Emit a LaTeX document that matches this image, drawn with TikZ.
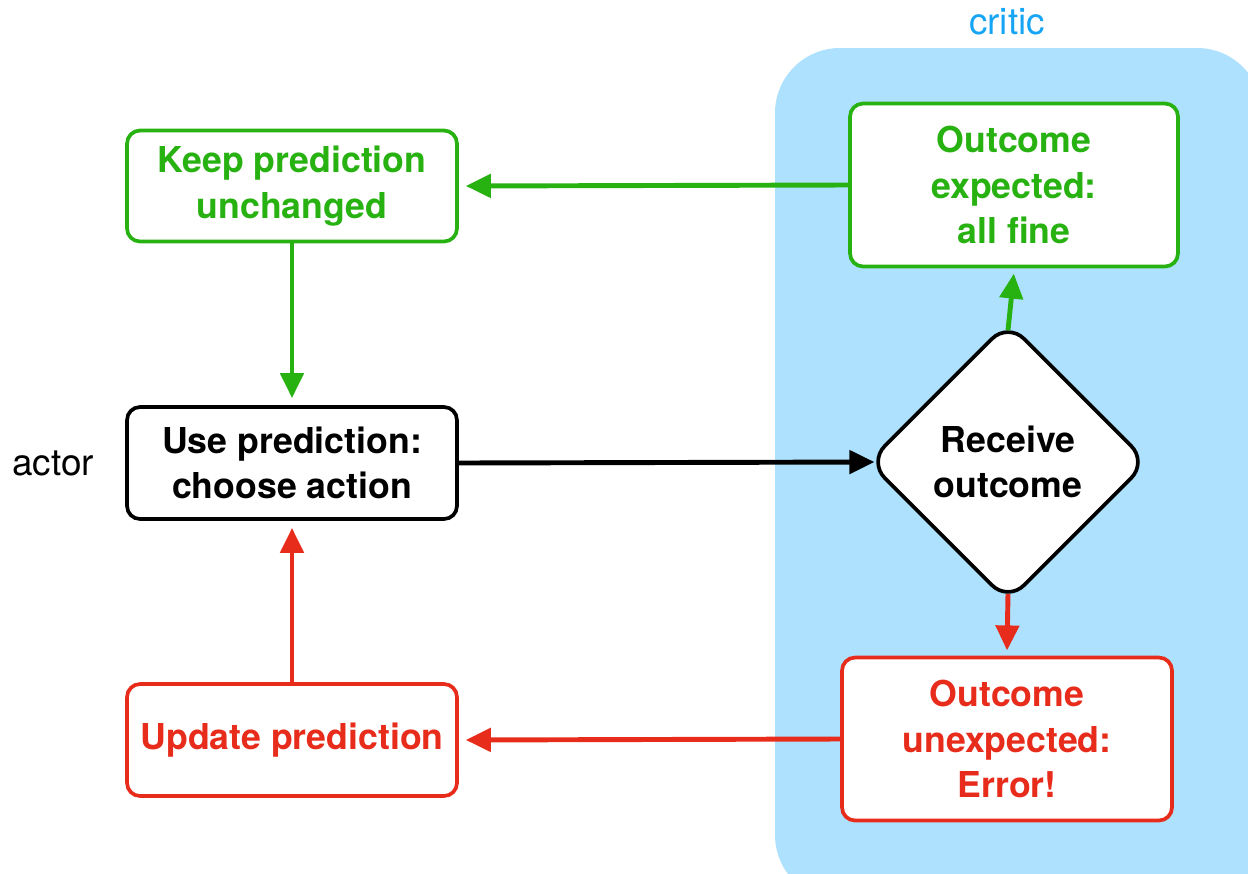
\documentclass[tikz,border=0pt]{standalone}
\usepackage{fontspec}
\setmainfont{TeX Gyre Heros}
\usetikzlibrary{arrows.meta,shapes.geometric}
\definecolor{okgreen}{RGB}{40,178,18}
\definecolor{errred}{RGB}{232,44,28}
\definecolor{criticbg}{RGB}{173,225,253}
\definecolor{critictx}{RGB}{22,165,245}
\tikzset{
  box/.style={draw,line width=2.1pt,rounded corners=0.26cm,fill=white,align=center,
    font=\bfseries\fontsize{20.3}{25.8}\selectfont,inner sep=0pt},
  dia/.style={diamond,draw,line width=2.1pt,rounded corners=0.45cm,fill=white,align=center,
    font=\bfseries\fontsize{20.3}{25.8}\selectfont,inner sep=0pt,minimum width=5.6cm,minimum height=5.6cm},
  lab/.style={font=\fontsize{21}{25}\selectfont},
  arr/.style={line width=2.8pt,-{Triangle[length=0.5cm,width=0.46cm]},shorten >=1pt}
}
\begin{document}
\begin{tikzpicture}[x=0.02cm,y=-0.02cm]
\useasboundingbox (0,0) rectangle (1248,873);
\fill[criticbg,rounded corners=1.3cm] (775,48) rectangle (1262,900);
\node[lab,text=critictx] (critic) at (1007,22) {critic};
\node[lab] (actor) at (53,463) {actor};
% actor side
\node[box,draw=okgreen,text=okgreen,minimum width=6.6cm,minimum height=2.22cm] (keep) at (292,186) {Keep prediction\\unchanged};
\node[box,draw=black,minimum width=6.6cm,minimum height=2.24cm] (use) at (292,463) {Use prediction:\\choose action};
\node[box,draw=errred,text=errred,minimum width=6.6cm,minimum height=2.24cm] (upd) at (292,740) {Update prediction};
% critic side
\node[dia] (recv) at (1008,462) {Receive\\outcome};
\node[box,draw=okgreen,text=okgreen,minimum width=6.56cm,minimum height=3.26cm] (fine) at (1014,185) {Outcome\\expected:\\all fine};
\node[box,draw=errred,text=errred,minimum width=6.6cm,minimum height=3.26cm] (err) at (1007,739) {Outcome\\unexpected:\\Error!};
% arrows
\draw[arr,okgreen] (fine.west) -- ([xshift=3pt]keep.east);
\draw[arr,okgreen] (keep.south) -- ([yshift=3pt]use.north);
\draw[arr,black] (use.east) -- ([xshift=0.2cm]recv.west);
\draw[arr,okgreen] ([yshift=-0.2cm]recv.north) -- ([yshift=-2pt]fine.south);
\draw[arr,errred] ([yshift=0.2cm]recv.south) -- ([yshift=2pt]err.north);
\draw[arr,errred] (err.west) -- ([xshift=3pt]upd.east);
\draw[arr,errred] (upd.north) -- ([yshift=-3pt]use.south);
\end{tikzpicture}
\end{document}
